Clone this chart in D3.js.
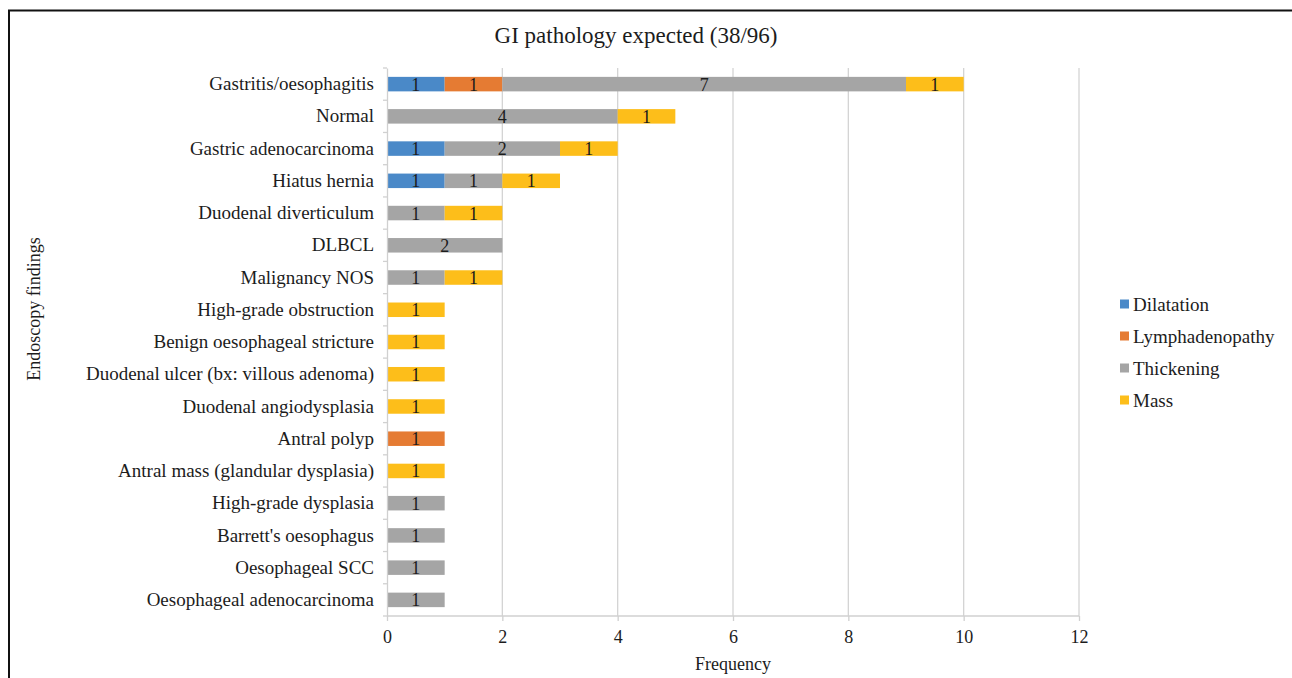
<!DOCTYPE html>
<html>
<head>
<meta charset="utf-8">
<script src="https://cdn.jsdelivr.net/npm/d3@7"></script>
<style>
  html, body { margin: 0; padding: 0; background: #fff; }
  svg { display: block; font-family: "Liberation Serif", "Times New Roman", serif; }
</style>
</head>
<body>
<svg id="chart" width="1292" height="678"></svg>
<script>
// Endoscopy findings, top to bottom
const categories = [
  "Gastritis/oesophagitis",
  "Normal",
  "Gastric adenocarcinoma",
  "Hiatus hernia",
  "Duodenal diverticulum",
  "DLBCL",
  "Malignancy NOS",
  "High-grade obstruction",
  "Benign oesophageal stricture",
  "Duodenal ulcer (bx: villous adenoma)",
  "Duodenal angiodysplasia",
  "Antral polyp",
  "Antral mass (glandular dysplasia)",
  "High-grade dysplasia",
  "Barrett's oesophagus",
  "Oesophageal SCC",
  "Oesophageal adenocarcinoma"
];

const seriesNames = ["Dilatation", "Lymphadenopathy", "Thickening", "Mass"];
const seriesColors = ["#4a89c8", "#e57b33", "#a5a5a5", "#fdbe1a"];

const dilatation      = [1, 0, 1, 1, 0, 0, 0, 0, 0, 0, 0, 0, 0, 0, 0, 0, 0];
const lymphadenopathy = [1, 0, 0, 0, 0, 0, 0, 0, 0, 0, 0, 1, 0, 0, 0, 0, 0];
const thickening      = [7, 4, 2, 1, 1, 2, 1, 0, 0, 0, 0, 0, 0, 1, 1, 1, 1];
const mass            = [1, 1, 1, 1, 1, 0, 1, 1, 1, 1, 1, 0, 1, 0, 0, 0, 0];

const xTicks = [0, 2, 4, 6, 8, 10, 12];

const rows = categories.map((c, i) => ({
  category: c,
  Dilatation: dilatation[i],
  Lymphadenopathy: lymphadenopathy[i],
  Thickening: thickening[i],
  Mass: mass[i]
}));

const FONT = "Liberation Serif, Times New Roman, serif";
const INK = "#1c1c1c";

const svg = d3.select("#chart");
const W = 1292, H = 678;

// Frame (top and left edges inside the window)
svg.append("path")
  .attr("d", `M9,${H + 2} L9,10.5 L${W + 2},10.5`)
  .attr("fill", "none").attr("stroke", "#111").attr("stroke-width", 2);

const margin = { left: 387, right: 1079, top: 68, bottom: 616 };

const x = d3.scaleLinear().domain([0, 12]).range([margin.left, margin.right]);
const y = d3.scaleBand().domain(categories).range([margin.top, margin.bottom])
  .paddingInner(0.55).paddingOuter(0.275);

// Vertical gridlines
svg.append("g").selectAll("line")
  .data(xTicks.filter(t => t > 0))
  .join("line")
  .attr("x1", d => x(d)).attr("x2", d => x(d))
  .attr("y1", margin.top).attr("y2", margin.bottom)
  .attr("stroke", "#d4d4d4").attr("stroke-width", 1.3);

// Stacked bars
const stack = d3.stack().keys(seriesNames);
const layers = stack(rows);
const color = d3.scaleOrdinal().domain(seriesNames).range(seriesColors);

const layerG = svg.append("g").selectAll("g")
  .data(layers)
  .join("g")
  .attr("fill", d => color(d.key));

const segs = d => d.map(v => ({ v, key: d.key })).filter(e => e.v[1] - e.v[0] > 0);

layerG.selectAll("rect")
  .data(segs)
  .join("rect")
  .attr("x", e => x(e.v[0]))
  .attr("width", e => x(e.v[1]) - x(e.v[0]))
  .attr("y", e => y(e.v.data.category))
  .attr("height", y.bandwidth());

// Value labels centred in each segment
layerG.selectAll("text")
  .data(segs)
  .join("text")
  .attr("x", e => (x(e.v[0]) + x(e.v[1])) / 2)
  .attr("y", e => y(e.v.data.category) + y.bandwidth() / 2)
  .attr("dy", "0.36em")
  .attr("text-anchor", "middle")
  .attr("fill", INK)
  .attr("font-family", FONT)
  .attr("font-size", 18)
  .text(e => e.v[1] - e.v[0]);

// Y axis
const yAxis = d3.axisLeft(y).tickSize(0).tickPadding(13);
const yg = svg.append("g").attr("transform", `translate(${margin.left},0)`).call(yAxis);
yg.select(".domain").attr("stroke", "#d0d0d0").attr("stroke-width", 1.3);
yg.selectAll("text").attr("font-size", 19).attr("fill", INK).attr("font-family", FONT);
// short separators between categories
const step = y.step();
svg.append("g").selectAll("line")
  .data(d3.range(categories.length + 1))
  .join("line")
  .attr("x1", margin.left - 4).attr("x2", margin.left)
  .attr("y1", i => margin.top + i * step).attr("y2", i => margin.top + i * step)
  .attr("stroke", "#d0d0d0").attr("stroke-width", 1.3);

// X axis
const xAxis = d3.axisBottom(x).tickValues(xTicks).tickSize(5).tickPadding(9).tickFormat(d3.format("d"));
const xg = svg.append("g").attr("transform", `translate(0,${margin.bottom})`).call(xAxis);
xg.select(".domain").attr("stroke", "#d0d0d0").attr("stroke-width", 1.3)
  .attr("d", `M${margin.left},0H${margin.right}`);
xg.selectAll(".tick line").attr("stroke", "#d0d0d0").attr("stroke-width", 1.3);
xg.selectAll("text").attr("font-size", 18).attr("fill", INK).attr("font-family", FONT);

// Title
svg.append("text")
  .attr("x", 636).attr("y", 43)
  .attr("text-anchor", "middle")
  .attr("font-size", 23).attr("fill", INK).attr("font-family", FONT)
  .text("GI pathology expected (38/96)");

// Axis titles
svg.append("text")
  .attr("x", 733).attr("y", 670)
  .attr("text-anchor", "middle")
  .attr("font-size", 18).attr("fill", INK).attr("font-family", FONT)
  .text("Frequency");

svg.append("text")
  .attr("transform", "translate(40,309) rotate(-90)")
  .attr("text-anchor", "middle")
  .attr("font-size", 18).attr("fill", INK).attr("font-family", FONT)
  .text("Endoscopy findings");

// Legend
const legend = svg.append("g").attr("transform", "translate(1120,304)");
const li = legend.selectAll("g")
  .data(seriesNames)
  .join("g")
  .attr("transform", (d, i) => `translate(0,${i * 32})`);
li.append("rect")
  .attr("x", 0).attr("y", -4.5).attr("width", 9).attr("height", 9)
  .attr("fill", d => color(d));
li.append("text")
  .attr("x", 13).attr("dy", "0.35em")
  .attr("font-size", 19).attr("fill", INK).attr("font-family", FONT)
  .text(d => d);
</script>
</body>
</html>
